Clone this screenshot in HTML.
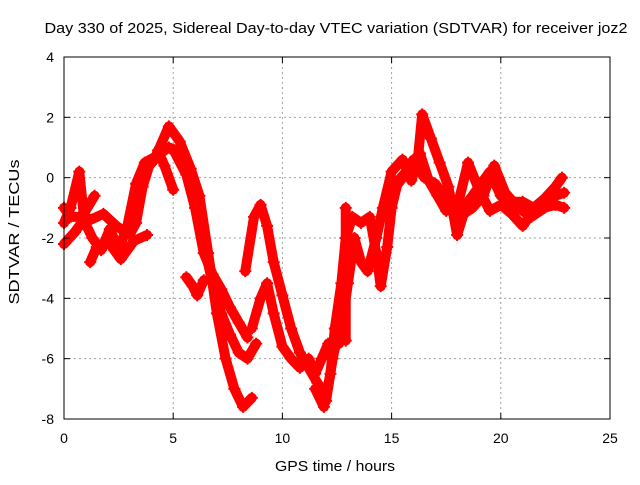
<!DOCTYPE html>
<html><head><meta charset="utf-8"><style>
body{margin:0;background:#fff}
svg text{font-family:"Liberation Sans",sans-serif;font-size:14px;fill:#000}
</style></head><body>
<svg width="640" height="480">
<text x="336" y="33" text-anchor="middle" textLength="583" lengthAdjust="spacingAndGlyphs" style="font-size:15px">Day 330 of 2025, Sidereal Day-to-day VTEC variation (SDTVAR) for receiver joz2</text>
<g id="grid"></g>
<g id="marks"></g>
<rect x="64" y="57" width="546" height="362" fill="none" stroke="#000" stroke-width="1"/>
<g id="ticks"></g>
<text x="335" y="471" text-anchor="middle" textLength="120" lengthAdjust="spacingAndGlyphs" style="font-size:15px">GPS time / hours</text>
<text transform="translate(19,232) rotate(-90)" text-anchor="middle" textLength="145" lengthAdjust="spacingAndGlyphs" style="font-size:15px">SDTVAR / TECUs</text>
</svg>
<script>
const xTicks=[0,5,10,15,20,25];
const yTicks=[4,2,0,-2,-4,-6,-8];
const s1=[[0,-1.0],[0.3,-1.3],[0.7,-1.3],[1.2,-1.4],[1.8,-1.2],[2.4,-1.6],[3.0,-1.9],[3.3,-1.5],[3.6,-0.3],[3.9,0.4],[4.4,0.8],[4.8,1.0],[5.2,0.9],[5.6,0.3],[6.0,-0.7],[6.4,-2.2],[6.8,-3.5],[7.2,-4.5],[7.6,-5.2],[8.0,-5.8],[8.4,-6.0],[8.8,-5.5]];
const s2=[[0,-2.2],[0.5,-1.8],[0.9,-1.4],[1.3,-2.0],[1.7,-2.4],[2.1,-1.7],[2.5,-2.4],[2.9,-1.6],[3.3,-0.2],[3.7,0.5],[4.2,0.7],[4.8,1.7],[5.3,1.2],[5.8,0.3],[6.2,-0.6],[6.6,-2.5],[7.0,-4.5],[7.4,-6.0],[7.8,-7.0],[8.2,-7.6],[8.6,-7.3]];
const s3=[[0,-1.5],[0.3,-1.0],[0.7,0.2],[0.9,-1.2],[1.4,-0.6]];
const s4=[[1.2,-2.8],[1.5,-2.3],[2.0,-2.1],[2.6,-2.7],[3.2,-2.1],[3.8,-1.9]];
const s5=[[4.3,0.9],[4.6,0.4],[5.0,-0.4]];
const s6=[[5.1,0.8],[5.6,0.1],[6.0,-1.0],[6.4,-2.5],[6.8,-3.2],[7.2,-3.7],[7.6,-4.3],[8.0,-4.8],[8.4,-5.3]];
const s7=[[5.6,-3.3],[5.9,-3.6],[6.1,-3.9],[6.4,-3.4]];
const s8=[[8.3,-3.1],[8.7,-1.3],[9.0,-0.9],[9.3,-1.6],[9.6,-2.8],[10.0,-3.9],[10.4,-5.0],[10.8,-5.8],[11.2,-6.3],[11.6,-6.8],[12.0,-7.4],[12.3,-6.0],[12.6,-5.0]];
const s9=[[8.6,-5.0],[9.0,-4.0],[9.3,-3.5],[9.6,-4.5],[10.0,-5.6],[10.4,-6.0],[10.8,-6.3],[11.2,-6.0],[11.5,-6.5],[11.8,-6.0],[12.1,-5.5]];
const s10=[[11.5,-7.0],[11.9,-7.6],[12.2,-6.5],[12.4,-5.0],[12.7,-3.5],[12.9,-2.0],[13.2,-1.3],[13.6,-1.5],[14.0,-1.3],[14.3,-2.5],[14.5,-3.6],[14.8,-2.3],[15.0,-1.0],[15.3,-0.1],[15.8,0.3],[16.2,0.6],[16.4,2.1],[16.8,1.3],[17.2,0.5],[17.6,-0.3],[18.0,-1.9],[18.3,-1.2],[18.7,-1.0],[19.2,-0.6],[19.7,0.4],[20.2,-0.5],[20.8,-1.0],[21.4,-1.3],[22.0,-1.0],[22.5,-0.6],[22.9,-0.5]];
const s11=[[12.6,-5.5],[13.0,-3.5],[13.3,-2.0],[13.6,-2.8],[13.9,-3.1],[14.3,-2.0],[14.6,-1.0],[15.0,0.2],[15.5,0.6],[15.9,-0.1],[16.3,0.8],[16.7,-0.1],[17.1,-0.6],[17.5,-1.1],[18.0,-1.0],[18.5,0.5],[19.0,-0.4],[19.5,-1.1],[20.0,-0.9],[20.5,-1.2],[21.0,-1.6],[21.5,-1.1],[22.0,-1.0],[22.5,-0.9],[22.9,-1.0]];
const s12=[[15.0,-0.5],[15.5,0.0],[16.0,0.6],[16.5,0.0],[17.0,-0.2],[17.5,-0.7],[18.0,-1.2],[18.5,-0.8],[19.0,-0.3],[19.5,0.2],[20.0,-0.6],[20.5,-0.8],[21.0,-0.8],[21.5,-1.0],[22.0,-0.7],[22.5,-0.3],[22.8,0.0]];
const s13=[[12.9,-1.0],[12.9,-3.0],[12.9,-5.4]];
const seriesList=[s1,s2,s3,s4,s5,s6,s7,s8,s9,s10,s11,s12,s13];
const NS='http://www.w3.org/2000/svg';
const X=t=>64+t*546/25;
const Y=v=>419-(v+8)*362/12;
function mk(tag,attrs,parent){const e=document.createElementNS(NS,tag);for(const k in attrs)e.setAttribute(k,attrs[k]);parent.appendChild(e);return e;}
const grid=document.getElementById('grid'),ticks=document.getElementById('ticks'),marks=document.getElementById('marks');
xTicks.forEach(t=>{
  if(t>0&&t<25){const g=mk('line',{x1:X(t),x2:X(t),y1:57,y2:419,stroke:'#a0a0a0','stroke-dasharray':'2,3'},grid);
  
  }
  mk('line',{x1:X(t),x2:X(t),y1:419,y2:413,stroke:'#000'},ticks);
  mk('line',{x1:X(t),x2:X(t),y1:57,y2:63,stroke:'#000'},ticks);
  const l=mk('text',{x:X(t),y:443,'text-anchor':'middle'},ticks);l.textContent=t;
  
  
});
yTicks.forEach(v=>{
  if(v<4&&v>-8){const g=mk('line',{x1:64,x2:610,y1:Y(v),y2:Y(v),stroke:'#a0a0a0','stroke-dasharray':'2,3'},grid);
  
  }
  mk('line',{x1:64,x2:70,y1:Y(v),y2:Y(v),stroke:'#000'},ticks);
  mk('line',{x1:610,x2:604,y1:Y(v),y2:Y(v),stroke:'#000'},ticks);
  const l=mk('text',{x:54,y:Y(v)+5,'text-anchor':'end'},ticks);l.textContent=v;
  
  
});
seriesList.forEach((s,i)=>{
  const p=mk('polyline',{points:s.map(d=>X(d[0])+','+Y(d[1])).join(' '),fill:'none',stroke:'#ff0000','stroke-width':10,'stroke-linejoin':'round','stroke-linecap':'round'},marks);
  
  
  s.forEach(d=>{
    const x=X(d[0]),y=Y(d[1]);
    const m=mk('path',{d:`M${x-6},${y}H${x+6}M${x},${y-6}V${y+6}`,stroke:'#ff0000','stroke-width':2},marks);
    
    
  });
});
</script>
</body></html>
